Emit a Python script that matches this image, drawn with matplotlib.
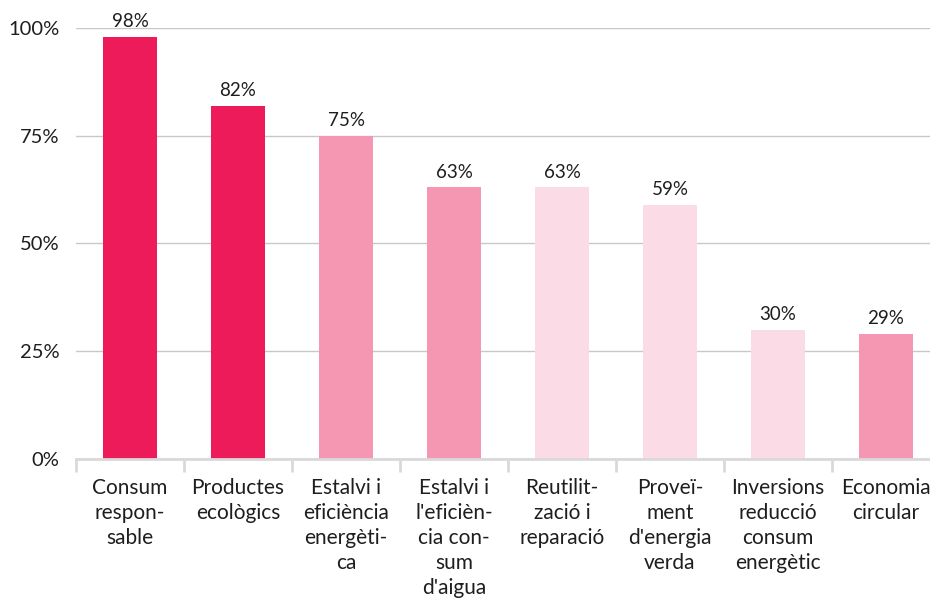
import numpy as np
import matplotlib
matplotlib.use("Agg")
import matplotlib.pyplot as plt
from matplotlib.ticker import FixedLocator

plt.rcParams['font.family'] = ['Lato', 'DejaVu Sans']

# ---- data ----
categories = [
    "Consum\nrespon-\nsable",
    "Productes\necològics",
    "Estalvi i\neficiència\nenergèti-\nca",
    "Estalvi i\nl'eficièn-\ncia con-\nsum\nd'aigua",
    "Reutilit-\nzació i\nreparació",
    "Proveï-\nment\nd'energia\nverda",
    "Inversions\nreducció\nconsum\nenergètic",
    "Economia\ncircular",
]
values = [98, 82, 75, 63, 63, 59, 30, 29]
shade = ["dark", "dark", "mid", "mid", "light", "light", "light", "mid"]

palette = {"dark": "#ED1B59", "mid": "#F597B2", "light": "#FBDCE6"}
text_col = "#1e1e1e"

fig = plt.figure(figsize=(9.3, 5.99), dpi=100)
ax = fig.add_axes([76 / 930, 140 / 599, 864 / 930, 431 / 599])

x = np.arange(len(values))
bars = ax.bar(x, values, width=0.5, color=[palette[s] for s in shade], zorder=3)

for xi, v in zip(x, values):
    ax.text(xi, v + 1.6, f"{v}%", ha="center", va="bottom",
            fontsize=13.5, color=text_col, clip_on=False)

ax.set_xlim(-0.5, len(values) - 0.5)
ax.set_ylim(0, 100)
ax.set_yticks([0, 25, 50, 75, 100])
ax.set_yticklabels(["0%", "25%", "50%", "75%", "100%"])
ax.yaxis.grid(True, color="#c8c8c8", linewidth=1, zorder=0)

ax.set_xticks(x)
ax.set_xticklabels(categories, fontsize=15, color=text_col, linespacing=1.3, va="top")
ax.xaxis.set_minor_locator(FixedLocator(np.arange(len(values)) - 0.5))
ax.tick_params(axis="x", which="major", length=0, pad=14)
ax.tick_params(axis="x", which="minor", length=9, width=2, color="#d9d9d9", direction="out")
ax.tick_params(axis="y", length=0, pad=12, labelsize=14.5, labelcolor=text_col)

for side in ["top", "right", "left"]:
    ax.spines[side].set_visible(False)
ax.spines["bottom"].set_color("#d9d9d9")
ax.spines["bottom"].set_linewidth(2)
ax.spines["bottom"].set_zorder(4)

fig.savefig("out.png", dpi=100)
